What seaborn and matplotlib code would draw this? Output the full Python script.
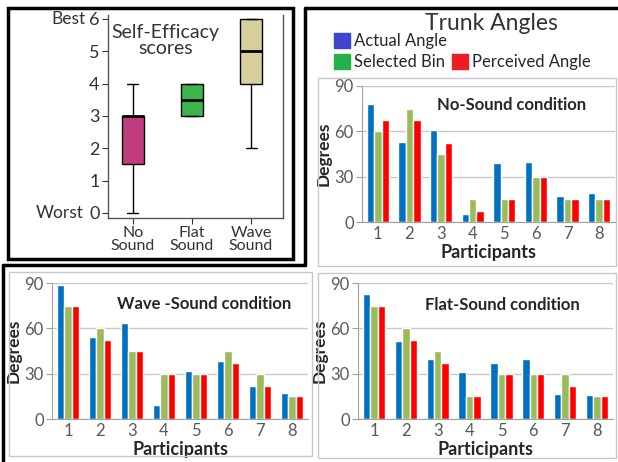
import matplotlib
matplotlib.use("Agg")
import matplotlib.pyplot as plt
import seaborn as sns
import pandas as pd
from matplotlib.patches import Patch, Rectangle
from matplotlib.lines import Line2D

# self-efficacy scores (five values per condition give the drawn box stats)
score_conditions = ["No\nSound", "Flat\nSound", "Wave\nSound"]
no_sound_scores = [0, 1.5, 3, 3, 4]
flat_sound_scores = [3, 3, 3.5, 4, 4]
wave_sound_scores = [2, 4, 5, 6, 6]

# trunk angles per participant
participants = ["1", "2", "3", "4", "5", "6", "7", "8"]
measures = ["Actual Angle", "Selected Bin", "Perceived Angle"]

no_actual = [78, 53, 61, 5, 39, 40, 17, 19]
no_selected = [60, 75, 45, 15, 15, 30, 15, 15]
no_perceived = [67.5, 67.5, 52.5, 7.5, 15, 30, 15, 15]

wave_actual = [89, 54, 63.5, 9, 32, 38.5, 22, 17]
wave_selected = [75, 60, 45, 30, 30, 45, 30, 15]
wave_perceived = [75, 52.5, 45, 30, 30, 37, 22, 15]

flat_actual = [83, 51.5, 39.5, 31, 37, 39.5, 16.5, 16]
flat_selected = [75, 60, 45, 15, 30, 30, 30, 15]
flat_perceived = [75, 52.5, 37, 15, 30, 30, 22, 15]

box_colors = ["#C23B7E", "#3DB54A", "#D8CE9C"]
bar_colors = ["#0070C0", "#9BBB59", "#FF0000"]
legend_colors = ["#3F48CC", "#22B14C", "#ED1C24"]

sns.set_style("white")
plt.rcParams["font.family"] = ["Lato", "DejaVu Sans"]

W, H = 618, 462
fig = plt.figure(figsize=(W / 100, H / 100), dpi=100)


def fx(x):
    return x / W


def fy(y):
    return 1 - y / H


def axes_at(left, top, right, bottom):
    return fig.add_axes([fx(left), fy(bottom), fx(right) - fx(left), fy(top) - fy(bottom)])


# panel frames
fig.add_artist(Rectangle((fx(8), fy(259)), fx(293) - fx(8), fy(8) - fy(259),
                         transform=fig.transFigure, fill=False, ec="black", lw=2.5))
for xs, ys in [([305, 618], [8, 8]), ([305, 305], [8, 265]),
               ([3, 305], [265, 265]), ([3, 3], [265, 462])]:
    fig.add_artist(Line2D([fx(v) for v in xs], [fy(v) for v in ys],
                          transform=fig.transFigure, color="black", lw=2.5))
for l, t, r, b in [(318, 78, 616, 266), (9, 272, 312, 456), (318, 273, 616, 458)]:
    fig.add_artist(Rectangle((fx(l), fy(b)), fx(r) - fx(l), fy(t) - fy(b),
                             transform=fig.transFigure, fill=False, ec="#C8C8C8", lw=1))

# ---- box plot ----
ax0 = axes_at(108, 15, 283, 218)
box_df = pd.DataFrame({
    "Condition": [score_conditions[0]] * len(no_sound_scores)
    + [score_conditions[1]] * len(flat_sound_scores)
    + [score_conditions[2]] * len(wave_sound_scores),
    "Score": no_sound_scores + flat_sound_scores + wave_sound_scores,
})
sns.boxplot(data=box_df, x="Condition", y="Score", hue="Condition", order=score_conditions,
            palette=box_colors, saturation=1, width=0.37, linecolor="black", linewidth=1,
            medianprops={"linewidth": 2}, fliersize=0, legend=False, ax=ax0)
ax0.set_xlim(-0.42, 2.54)
ax0.set_ylim(-0.155, 6.12)
ax0.set_yticks(range(7))
ax0.set_xlabel("")
ax0.set_ylabel("")
for s in ["left", "bottom", "right"]:
    ax0.spines[s].set_color("#555555")
    ax0.spines[s].set_linewidth(1)
ax0.spines["top"].set_visible(False)
ax0.tick_params(axis="y", labelsize=13, colors="#333333", length=4, left=True, pad=2)
ax0.tick_params(axis="x", labelsize=11.5, colors="#333333", length=4, bottom=True, pad=2)
for lab in ax0.get_xticklabels():
    lab.set_linespacing(0.9)
ax0.text(-0.13, 6, "Best", transform=ax0.get_yaxis_transform(), ha="right", va="center",
         fontsize=12.5, color="#333333")
ax0.text(-0.14, 0, "Worst", transform=ax0.get_yaxis_transform(), ha="right", va="center",
         fontsize=12.5, color="#333333")
ax0.text(0.33, 0.875, "Self-Efficacy\nscores", transform=ax0.transAxes, ha="center",
         va="center", fontsize=14, color="#333333", linespacing=0.95)


# ---- bar charts ----
def draw_bars(ax, actual, selected, perceived, title, tx, ty):
    df = pd.DataFrame({
        "Participant": participants * 3,
        "Measure": [m for m in measures for _ in participants],
        "Degrees": actual + selected + perceived,
    })
    sns.barplot(data=df, x="Participant", y="Degrees", hue="Measure", hue_order=measures,
                palette=bar_colors, saturation=1, width=0.7, gap=0, legend=False,
                errorbar=None, ax=ax)
    ax.set_ylim(0, 90)
    ax.set_xlim(-0.5, 7.5)
    ax.set_yticks([0, 30, 60, 90])
    ax.grid(axis="y", color="#C8C8C8", lw=1)
    ax.set_axisbelow(True)
    for s in ["top", "right"]:
        ax.spines[s].set_visible(False)
    for s in ["left", "bottom"]:
        ax.spines[s].set_color("#A0A0A0")
    ax.tick_params(axis="y", labelsize=12, colors="#595959", length=4, left=True,
                   color="#A0A0A0", pad=2)
    ax.tick_params(axis="x", labelsize=12, colors="#595959", length=0, pad=3)
    ax.set_ylabel("Degrees", fontsize=12.5, fontweight="bold", labelpad=2)
    ax.set_xlabel("Participants", fontsize=13, fontweight="bold", labelpad=1)
    ax.text(tx, ty, title, transform=ax.transAxes, ha="center", va="center",
            fontsize=12, fontweight="bold")


ax1 = axes_at(362, 86, 615, 222)
draw_bars(ax1, no_actual, no_selected, no_perceived, "No-Sound condition", 0.593, 0.86)
ax2 = axes_at(52, 283, 308, 419)
draw_bars(ax2, wave_actual, wave_selected, wave_perceived, "Wave -Sound condition", 0.596, 0.847)
ax3 = axes_at(358, 283, 613, 419)
draw_bars(ax3, flat_actual, flat_selected, flat_perceived, "Flat-Sound condition", 0.566, 0.837)

fig.text(fx(491), fy(24), "Trunk Angles", ha="center", va="center", fontsize=16.5, color="#333333")
handles = [Patch(color=legend_colors[0], label=measures[0]),
           Patch(color=legend_colors[1], label=measures[1]),
           Patch(color="none", label=""),
           Patch(color=legend_colors[2], label=measures[2])]
fig.legend(handles=handles, labels=[h.get_label() for h in handles], loc="upper left",
           bbox_to_anchor=(fx(334), fy(33)), ncol=2, frameon=False, fontsize=12,
           handlelength=0.95, handleheight=1.0, handletextpad=0.25, columnspacing=0.3,
           labelspacing=0.3, borderpad=0, borderaxespad=0)

fig.savefig("out.png", dpi=100)
